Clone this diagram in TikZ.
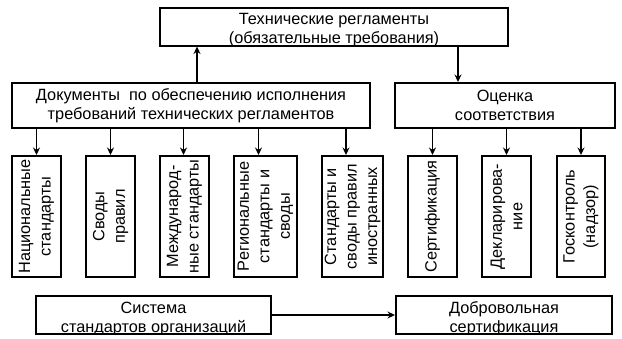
\documentclass[tikz,border=0pt]{standalone}
\usepackage{fontspec}
\setmainfont{Liberation Sans}
\usetikzlibrary{arrows.meta, positioning}
% text pushed down inside its box, box size unchanged
\newcommand{\lowtext}[2]{\raisebox{-#1}[\height][\depth]{\begin{tabular}{@{}c@{}}#2\end{tabular}}}

\begin{document}
\begin{tikzpicture}[
    x=1pt, y=-1pt,
    every node/.style={font=\fontsize{16.3}{19}\selectfont, align=center, inner sep=0pt},
    box/.style={draw, line width=2pt},
    vbox/.style={box, rotate=90, minimum width=121pt, minimum height=49pt, font=\fontsize{16.3}{20.5}\selectfont},
    arr/.style={-{Stealth[length=7.5pt, width=7pt]}, line width=1.4pt}
]
\useasboundingbox (0,0) rectangle (622,338);
\clip (0,0) rectangle (622,334);

\node (techreg) [box, minimum width=348pt, minimum height=37pt] at (334,26.5) {\lowtext{3.5pt}{Технические регламенты\\(обязательные требования)}};
\node (docs) [box, minimum width=358pt, minimum height=45pt] at (191,105.5) {Документы~ по обеспечению исполнения\\требований технических регламентов};
\node (conf) [box, minimum width=220pt, minimum height=45pt] at (505,105.5) {Оценка\\соответствия};

\node (nat) [vbox] at (36.5,216.5) {Национальные\\стандарты};
\node (rules) [vbox] at (110.5,216.5) {Своды\\правил};
\node (intl) [vbox] at (184.5,216.5) {Международ-\\ные стандарты};
\node (reg) [vbox, minimum height=63pt] at (265.5,216.5) {Региональные\\стандарты и\\своды};
\node (foreign) [vbox, minimum height=61pt] at (352.5,216.5) {Стандарты и\\своды правил\\иностранных};
\node (cert) [vbox] at (432.5,216.5) {Сертификация};
\node (decl) [vbox] at (506.5,216.5) {Декларирова-\\ние};
\node (gosk) [vbox, minimum height=48pt] at (581,216.5) {Госконтроль\\(надзор)};

\node (sys) [box, minimum width=235pt, minimum height=36pt] at (153.5,315) {\lowtext{4pt}{Система\\стандартов организаций}};
\node (vol) [box, minimum width=216pt, minimum height=36pt] at (504,315) {\lowtext{4pt}{Добровольная\\сертификация}};

\draw[arr] ([xshift=6pt]docs.north) -- ([xshift=6pt]docs.north |- techreg.south);
\draw[arr] ([xshift=-47pt]conf.north |- techreg.south) -- ([xshift=-47pt]conf.north);

% rotated boxes: their top side is the east anchor
\foreach \b/\dx in {nat/0, rules/0, intl/-1, reg/-7, foreign/-6.5}
  \draw[arr] ([xshift=\dx pt]\b.east |- docs.south) -- ([xshift=\dx pt]\b.east);
\foreach \b in {cert, decl, gosk}
  \draw[arr] (\b.east |- conf.south) -- (\b.east);

\draw[arr] (sys) -- (vol);
\end{tikzpicture}
\end{document}
